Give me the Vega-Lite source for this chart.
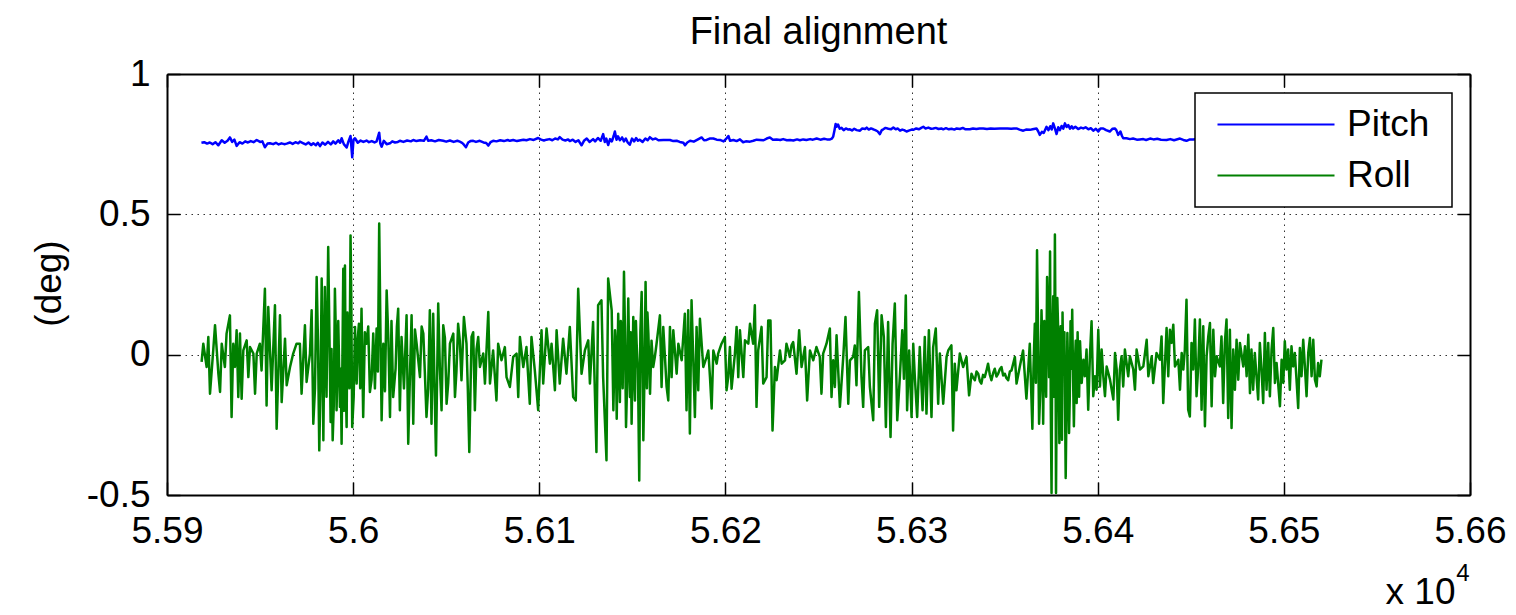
{
"$schema": "https://vega.github.io/schema/vega-lite/v6.json",
"width": 1303, "height": 421,
"autosize": {"type": "none"},
"padding": {"left": 167, "top": 74, "right": 46, "bottom": 120},
"background": "white",
"title": {"text": "Final alignment", "font": "Liberation Sans", "fontSize": 38, "fontWeight": "normal", "color": "black", "anchor": "middle", "frame": "group", "offset": 3},
"config": {"view": {"stroke": null}, "legend": {"strokeWidth": 1.5}},
"datasets": {
"pitch": [
{"t":55918.5,"v":0.755},{"t":55920,"v":0.757},{"t":55921.5,"v":0.752},{"t":55923,"v":0.756},{"t":55924.5,"v":0.750},{"t":55926,"v":0.757},{"t":55927.6,"v":0.746},{"t":55929.4,"v":0.764},{"t":55931,"v":0.755},{"t":55932.5,"v":0.762},{"t":55933.8,"v":0.774},{"t":55935,"v":0.758},{"t":55936.2,"v":0.766},{"t":55937.4,"v":0.744},{"t":55939,"v":0.757},{"t":55940.5,"v":0.752},{"t":55942,"v":0.760},{"t":55943.5,"v":0.756},{"t":55945,"v":0.761},{"t":55946.5,"v":0.757},{"t":55948.2,"v":0.765},{"t":55950,"v":0.758},{"t":55951.2,"v":0.760},{"t":55952.6,"v":0.739},{"t":55954,"v":0.752},{"t":55955.3,"v":0.753},{"t":55957,"v":0.750},{"t":55958.5,"v":0.755},{"t":55960,"v":0.749},{"t":55961.5,"v":0.753},{"t":55963,"v":0.750},{"t":55964.3,"v":0.752},{"t":55966,"v":0.756},{"t":55967.5,"v":0.751},{"t":55969,"v":0.757},{"t":55970.5,"v":0.753},{"t":55971.4,"v":0.759},{"t":55973,"v":0.754},{"t":55974.5,"v":0.749},{"t":55976,"v":0.756},{"t":55977.5,"v":0.747},{"t":55978.6,"v":0.753},{"t":55980,"v":0.746},{"t":55981,"v":0.755},{"t":55982.2,"v":0.743},{"t":55983.5,"v":0.756},{"t":55985,"v":0.748},{"t":55986.5,"v":0.758},{"t":55988,"v":0.749},{"t":55989.3,"v":0.760},{"t":55990.5,"v":0.752},{"t":55992,"v":0.764},{"t":55993,"v":0.755},{"t":55993.8,"v":0.771},{"t":55995,"v":0.750},{"t":55996.5,"v":0.738},{"t":55997.5,"v":0.760},{"t":55998.6,"v":0.779},{"t":55999.5,"v":0.703},{"t":56000.2,"v":0.766},{"t":56001,"v":0.771},{"t":56002.5,"v":0.755},{"t":56004,"v":0.763},{"t":56005.5,"v":0.758},{"t":56007.2,"v":0.763},{"t":56008.5,"v":0.757},{"t":56010,"v":0.761},{"t":56011.5,"v":0.756},{"t":56012.6,"v":0.760},{"t":56014,"v":0.791},{"t":56014.6,"v":0.752},{"t":56015.3,"v":0.741},{"t":56016.5,"v":0.762},{"t":56018,"v":0.750},{"t":56019.8,"v":0.753},{"t":56021,"v":0.760},{"t":56022.5,"v":0.756},{"t":56024,"v":0.758},{"t":56025.1,"v":0.762},{"t":56027,"v":0.758},{"t":56029,"v":0.763},{"t":56031,"v":0.760},{"t":56032.3,"v":0.765},{"t":56034,"v":0.761},{"t":56036,"v":0.764},{"t":56038,"v":0.762},{"t":56039.4,"v":0.777},{"t":56040.3,"v":0.762},{"t":56042,"v":0.764},{"t":56044,"v":0.760},{"t":56046,"v":0.765},{"t":56048.4,"v":0.762},{"t":56050,"v":0.759},{"t":56052,"v":0.763},{"t":56054,"v":0.758},{"t":56056,"v":0.762},{"t":56057.3,"v":0.759},{"t":56058.5,"v":0.755},{"t":56059.5,"v":0.748},{"t":56060.6,"v":0.739},{"t":56061.8,"v":0.756},{"t":56063,"v":0.761},{"t":56064.5,"v":0.762},{"t":56066,"v":0.758},{"t":56068,"v":0.762},{"t":56070,"v":0.756},{"t":56071.5,"v":0.754},{"t":56072.6,"v":0.745},{"t":56073.8,"v":0.757},{"t":56075.2,"v":0.762},{"t":56077,"v":0.760},{"t":56079,"v":0.764},{"t":56081,"v":0.761},{"t":56083,"v":0.765},{"t":56084.2,"v":0.762},{"t":56086,"v":0.765},{"t":56088,"v":0.761},{"t":56090,"v":0.764},{"t":56091.5,"v":0.766},{"t":56093.1,"v":0.764},{"t":56095,"v":0.768},{"t":56097,"v":0.765},{"t":56099.4,"v":0.772},{"t":56101,"v":0.766},{"t":56102.5,"v":0.763},{"t":56103.9,"v":0.766},{"t":56105.5,"v":0.768},{"t":56107,"v":0.764},{"t":56108.5,"v":0.770},{"t":56110,"v":0.767},{"t":56111,"v":0.775},{"t":56112.5,"v":0.766},{"t":56114,"v":0.763},{"t":56115.5,"v":0.767},{"t":56116.4,"v":0.761},{"t":56118,"v":0.766},{"t":56119.5,"v":0.758},{"t":56121,"v":0.764},{"t":56122.7,"v":0.746},{"t":56124,"v":0.762},{"t":56125.5,"v":0.770},{"t":56127,"v":0.758},{"t":56128.9,"v":0.768},{"t":56130,"v":0.760},{"t":56131.5,"v":0.772},{"t":56133,"v":0.762},{"t":56134.3,"v":0.786},{"t":56135.2,"v":0.758},{"t":56136,"v":0.770},{"t":56137,"v":0.747},{"t":56138,"v":0.768},{"t":56139,"v":0.760},{"t":56140,"v":0.780},{"t":56140.6,"v":0.795},{"t":56141.5,"v":0.766},{"t":56142.3,"v":0.778},{"t":56143.3,"v":0.764},{"t":56144.5,"v":0.774},{"t":56145.5,"v":0.760},{"t":56146.5,"v":0.770},{"t":56147.5,"v":0.756},{"t":56148.6,"v":0.748},{"t":56149.8,"v":0.770},{"t":56151,"v":0.760},{"t":56152,"v":0.772},{"t":56153,"v":0.762},{"t":56154,"v":0.766},{"t":56155.5,"v":0.758},{"t":56157,"v":0.770},{"t":56158.2,"v":0.764},{"t":56159.4,"v":0.775},{"t":56161,"v":0.767},{"t":56162.5,"v":0.770},{"t":56164,"v":0.764},{"t":56166.7,"v":0.765},
{"t":56170.2,"v":0.765},{"t":56172,"v":0.761},{"t":56173.8,"v":0.762},{"t":56175.5,"v":0.758},{"t":56177.4,"v":0.755},{"t":56178.3,"v":0.746},{"t":56179.5,"v":0.756},{"t":56181,"v":0.762},{"t":56183,"v":0.759},{"t":56185,"v":0.766},{"t":56187.2,"v":0.774},{"t":56188.5,"v":0.764},{"t":56189.9,"v":0.765},{"t":56191.5,"v":0.770},{"t":56193.5,"v":0.770},{"t":56195.3,"v":0.766},{"t":56197.1,"v":0.765},{"t":56199,"v":0.760},{"t":56200.5,"v":0.770},{"t":56201.6,"v":0.779},{"t":56202.5,"v":0.762},{"t":56204.3,"v":0.765},{"t":56206,"v":0.761},{"t":56207.8,"v":0.767},{"t":56209.5,"v":0.757},{"t":56211,"v":0.760},{"t":56213.2,"v":0.759},{"t":56215,"v":0.762},{"t":56216.8,"v":0.766},{"t":56218.6,"v":0.765},{"t":56220.5,"v":0.764},{"t":56222.2,"v":0.770},{"t":56223.9,"v":0.774},{"t":56225.5,"v":0.766},{"t":56227.5,"v":0.767},{"t":56229.5,"v":0.765},{"t":56231,"v":0.768},{"t":56233,"v":0.764},{"t":56234.7,"v":0.765},{"t":56236.5,"v":0.763},{"t":56238.5,"v":0.767},{"t":56240,"v":0.764},{"t":56241.8,"v":0.767},{"t":56243.5,"v":0.765},{"t":56245.5,"v":0.768},{"t":56247,"v":0.766},{"t":56249,"v":0.770},{"t":56251,"v":0.766},{"t":56253,"v":0.769},{"t":56254.5,"v":0.767},{"t":56256.2,"v":0.767},{"t":56257.2,"v":0.770},{"t":56257.9,"v":0.777},{"t":56258.6,"v":0.800},{"t":56259.2,"v":0.822},{"t":56259.7,"v":0.812},{"t":56260.5,"v":0.820},{"t":56261.4,"v":0.805},{"t":56262.4,"v":0.808},{"t":56263.5,"v":0.800},{"t":56264.7,"v":0.806},{"t":56266,"v":0.802},{"t":56266.9,"v":0.803},{"t":56268,"v":0.799},{"t":56269.2,"v":0.805},{"t":56270.5,"v":0.800},{"t":56272.3,"v":0.798},{"t":56273.5,"v":0.806},{"t":56275,"v":0.804},{"t":56275.9,"v":0.809},{"t":56277,"v":0.802},{"t":56278.2,"v":0.806},{"t":56279.4,"v":0.803},{"t":56280.5,"v":0.800},{"t":56281.7,"v":0.796},{"t":56283,"v":0.786},{"t":56284,"v":0.800},{"t":56284.8,"v":0.803},{"t":56286,"v":0.808},{"t":56287.5,"v":0.805},{"t":56289,"v":0.803},{"t":56290.2,"v":0.809},{"t":56291.5,"v":0.803},{"t":56292.5,"v":0.806},{"t":56293.8,"v":0.798},{"t":56295,"v":0.802},{"t":56296,"v":0.800},{"t":56297.3,"v":0.795},{"t":56298.5,"v":0.798},{"t":56300,"v":0.802},{"t":56300.9,"v":0.801},{"t":56302.5,"v":0.806},{"t":56304,"v":0.803},{"t":56305.2,"v":0.808},{"t":56306.3,"v":0.812},{"t":56307.5,"v":0.806},{"t":56309,"v":0.809},{"t":56310.5,"v":0.805},{"t":56311.7,"v":0.806},{"t":56313,"v":0.808},{"t":56314.5,"v":0.804},{"t":56316,"v":0.806},{"t":56317,"v":0.803},{"t":56318.5,"v":0.807},{"t":56320,"v":0.803},{"t":56321.5,"v":0.805},{"t":56323,"v":0.802},{"t":56324.2,"v":0.806},{"t":56326,"v":0.804},{"t":56327.5,"v":0.808},{"t":56329,"v":0.803},{"t":56331.3,"v":0.803},{"t":56333,"v":0.806},{"t":56334.8,"v":0.804},{"t":56336.5,"v":0.806},{"t":56338.5,"v":0.806},{"t":56340.5,"v":0.804},{"t":56342.5,"v":0.806},{"t":56344.5,"v":0.805},{"t":56347.5,"v":0.806},{"t":56349.5,"v":0.806},{"t":56351.5,"v":0.806},{"t":56353.5,"v":0.805},{"t":56355,"v":0.806},{"t":56356.4,"v":0.806},{"t":56358,"v":0.802},{"t":56360,"v":0.798},{"t":56361.5,"v":0.802},{"t":56363.6,"v":0.801},{"t":56365,"v":0.803},{"t":56367.1,"v":0.806},{"t":56368,"v":0.796},{"t":56368.9,"v":0.783},{"t":56370,"v":0.794},{"t":56371,"v":0.790},{"t":56372.5,"v":0.812},{"t":56373.5,"v":0.800},{"t":56374.5,"v":0.814},{"t":56375.3,"v":0.802},{"t":56376.1,"v":0.824},{"t":56377,"v":0.806},{"t":56377.9,"v":0.786},{"t":56378.8,"v":0.810},{"t":56379.7,"v":0.800},{"t":56380.6,"v":0.815},{"t":56381.5,"v":0.805},{"t":56382.4,"v":0.824},{"t":56383.3,"v":0.811},{"t":56384.2,"v":0.818},{"t":56385.1,"v":0.805},{"t":56386,"v":0.814},{"t":56386.8,"v":0.806},{"t":56388,"v":0.812},{"t":56389.5,"v":0.804},{"t":56391,"v":0.809},{"t":56392.2,"v":0.806},{"t":56393.5,"v":0.810},{"t":56395,"v":0.803},{"t":56396.3,"v":0.807},{"t":56397.6,"v":0.798},{"t":56399,"v":0.805},{"t":56400.3,"v":0.795},{"t":56401.5,"v":0.806},{"t":56403,"v":0.806},{"t":56404.5,"v":0.800},{"t":56406.5,"v":0.795},{"t":56408,"v":0.805},{"t":56409.2,"v":0.806},{"t":56410,"v":0.800},{"t":56411,"v":0.783},{"t":56412.2,"v":0.795},{"t":56413,"v":0.780},{"t":56413.7,"v":0.771},{"t":56415.5,"v":0.771},{"t":56417.3,"v":0.768},{"t":56419,"v":0.770},{"t":56421,"v":0.766},{"t":56422.6,"v":0.767},{"t":56424.5,"v":0.768},{"t":56426,"v":0.765},{"t":56428.1,"v":0.770},{"t":56430,"v":0.767},{"t":56432,"v":0.769},{"t":56434,"v":0.766},{"t":56437,"v":0.765},{"t":56439,"v":0.768},{"t":56441,"v":0.764},{"t":56444.2,"v":0.770},{"t":56446,"v":0.765},{"t":56447.7,"v":0.762},{"t":56449.5,"v":0.767},{"t":56451.3,"v":0.767},{"t":56455,"v":0.770},{"t":56460,"v":0.766},{"t":56465,"v":0.768},{"t":56470,"v":0.765},{"t":56475,"v":0.767},{"t":56480,"v":0.769},{"t":56490,"v":0.766},{"t":56500,"v":0.768},{"t":56510,"v":0.766},{"t":56520,"v":0.767}
],
"roll": [
{"t":55918.6,"v":-0.026},{"t":55919.5,"v":0.039},{"t":55921.3,"v":-0.044},{"t":55922.2,"v":0.063},{"t":55923.1,"v":-0.139},{"t":55924.9,"v":0.021},{"t":55925.8,"v":0.105},{"t":55927.6,"v":-0.068},{"t":55928.5,"v":-0.133},{"t":55929.4,"v":0.039},{"t":55931.1,"v":-0.044},{"t":55932.0,"v":0.075},{"t":55933.8,"v":0.140},{"t":55934.7,"v":-0.222},{"t":55935.6,"v":0.039},{"t":55936.5,"v":-0.044},{"t":55937.4,"v":0.087},{"t":55938.3,"v":-0.151},{"t":55939.2,"v":0.075},{"t":55940.1,"v":-0.157},{"t":55941.0,"v":0.015},{"t":55942.8,"v":0.051},{"t":55943.7,"v":-0.080},{"t":55944.6,"v":0.027},{"t":55946.4,"v":0.004},{"t":55947.3,"v":-0.139},{"t":55948.2,"v":0.004},{"t":55949.9,"v":0.039},{"t":55950.8,"v":-0.056},{"t":55952.6,"v":0.235},{"t":55953.5,"v":-0.181},{"t":55954.4,"v":0.170},{"t":55956.2,"v":-0.127},{"t":55958.0,"v":0.176},{"t":55958.9,"v":-0.264},{"t":55960.7,"v":0.140},{"t":55961.6,"v":-0.169},{"t":55963.4,"v":0.057},{"t":55964.3,"v":-0.109},{"t":55966.1,"v":-0.044},{"t":55967.8,"v":0.004},{"t":55969.6,"v":0.039},{"t":55971.4,"v":0.039},{"t":55972.3,"v":-0.139},{"t":55974.1,"v":0.105},{"t":55975.0,"v":-0.097},{"t":55976.8,"v":0.004},{"t":55977.7,"v":0.158},{"t":55978.6,"v":-0.246},{"t":55980.4,"v":0.277},{"t":55981.8,"v":-0.341},{"t":55983.1,"v":0.271},{"t":55984.0,"v":-0.305},{"t":55984.8,"v":0.241},{"t":55986.6,"v":0.384},{"t":55987.9,"v":-0.240},{"t":55989.0,"v":-0.305},{"t":55990.2,"v":0.235},{"t":55991.1,"v":-0.198},{"t":55992.9,"v":-0.186},{"t":55993.8,"v":-0.317},{"t":55994.7,"v":0.306},{"t":55995.6,"v":0.318},{"t":55996.5,"v":-0.258},{"t":55997.4,"v":0.039},{"t":55998.6,"v":0.425},{"t":55999.5,"v":-0.258},{"t":56001.0,"v":0.099},{"t":56001.9,"v":-0.103},{"t":56003.1,"v":0.110},{"t":56004.5,"v":0.164},{"t":56005.4,"v":-0.222},{"t":56007.2,"v":0.039},{"t":56009.0,"v":-0.133},{"t":56010.8,"v":0.075},{"t":56012.6,"v":0.093},{"t":56014.0,"v":0.467},{"t":56015.3,"v":-0.234},{"t":56016.2,"v":0.039},{"t":56018.0,"v":0.229},{"t":56019.8,"v":-0.222},{"t":56021.5,"v":-0.151},{"t":56024.2,"v":0.164},{"t":56025.1,"v":-0.198},{"t":56026.0,"v":0.063},{"t":56028.7,"v":0.140},{"t":56029.6,"v":-0.317},{"t":56031.4,"v":0.140},{"t":56032.3,"v":-0.246},{"t":56034.1,"v":0.039},{"t":56035.9,"v":-0.080},{"t":56037.7,"v":0.075},{"t":56039.4,"v":-0.222},{"t":56041.2,"v":0.158},{"t":56042.1,"v":-0.246},{"t":56043.0,"v":0.146},{"t":56044.5,"v":-0.359},{"t":56045.7,"v":0.182},{"t":56047.5,"v":-0.198},{"t":56048.4,"v":0.105},{"t":56050.2,"v":-0.175},{"t":56052.0,"v":0.039},{"t":56053.8,"v":0.075},{"t":56054.7,"v":-0.151},{"t":56056.4,"v":0.110},{"t":56058.2,"v":-0.091},{"t":56059.5,"v":0.134},{"t":56060.9,"v":0.039},{"t":56062.4,"v":-0.347},{"t":56063.6,"v":0.063},{"t":56065.4,"v":-0.198},{"t":56067.2,"v":0.063},{"t":56068.1,"v":-0.044},{"t":56069.9,"v":0.004},{"t":56070.8,"v":-0.103},{"t":56072.6,"v":0.152},{"t":56073.5,"v":-0.103},{"t":56075.2,"v":0.015},{"t":56077.0,"v":-0.163},{"t":56077.9,"v":0.039},{"t":56079.7,"v":-0.020},{"t":56081.5,"v":0.027},{"t":56082.4,"v":-0.080},{"t":56084.2,"v":-0.115},{"t":56086.0,"v":-0.008},{"t":56087.8,"v":0.004},{"t":56088.7,"v":-0.151},{"t":56089.6,"v":0.063},{"t":56091.4,"v":-0.044},{"t":56093.1,"v":0.027},{"t":56094.9,"v":-0.175},{"t":56095.8,"v":0.063},{"t":56097.6,"v":-0.056},{"t":56099.4,"v":-0.198},{"t":56101.2,"v":0.087},{"t":56102.1,"v":-0.103},{"t":56103.9,"v":0.093},{"t":56105.7,"v":-0.032},{"t":56106.6,"v":0.039},{"t":56108.4,"v":-0.127},{"t":56109.3,"v":0.087},{"t":56111.0,"v":-0.103},{"t":56112.8,"v":0.057},{"t":56114.6,"v":-0.068},{"t":56116.4,"v":0.099},{"t":56118.2,"v":-0.151},{"t":56119.6,"v":-0.163},{"t":56120.9,"v":0.235},{"t":56122.7,"v":-0.068},{"t":56124.5,"v":0.015},{"t":56126.3,"v":0.051},{"t":56127.2,"v":-0.103},{"t":56128.9,"v":0.116},{"t":56130.7,"v":-0.347},{"t":56131.6,"v":0.176},{"t":56133.4,"v":0.194},{"t":56134.3,"v":-0.080},{"t":56136.1,"v":-0.376},{"t":56137.0,"v":0.271},
{"t":56138.9,"v":0.158},{"t":56139.8,"v":-0.198},{"t":56140.7,"v":0.087},{"t":56141.6,"v":-0.228},{"t":56142.4,"v":0.146},{"t":56143.3,"v":-0.169},{"t":56144.2,"v":0.087},{"t":56145.5,"v":0.295},{"t":56146.6,"v":-0.258},{"t":56147.8,"v":0.200},{"t":56148.7,"v":-0.151},{"t":56149.6,"v":-0.246},{"t":56150.5,"v":0.134},{"t":56151.4,"v":-0.163},{"t":56152.3,"v":0.039},{"t":56153.7,"v":-0.448},{"t":56155.0,"v":0.223},{"t":56155.9,"v":-0.305},{"t":56157.1,"v":0.259},{"t":56158.6,"v":0.075},{"t":56159.5,"v":-0.139},{"t":56161.2,"v":-0.044},{"t":56162.1,"v":-0.008},{"t":56163.0,"v":0.039},{"t":56164.8,"v":0.140},{"t":56165.7,"v":-0.115},{"t":56166.6,"v":0.099},{"t":56168.4,"v":-0.115},{"t":56169.3,"v":-0.163},{"t":56170.2,"v":0.099},{"t":56171.1,"v":-0.080},{"t":56172.0,"v":0.087},{"t":56173.8,"v":-0.068},{"t":56174.7,"v":0.039},{"t":56176.5,"v":-0.020},{"t":56178.2,"v":0.146},{"t":56179.1,"v":-0.198},{"t":56180.0,"v":0.158},{"t":56180.9,"v":-0.281},{"t":56181.8,"v":0.194},{"t":56183.6,"v":-0.222},{"t":56184.5,"v":0.099},{"t":56185.4,"v":-0.127},{"t":56186.3,"v":0.128},{"t":56188.1,"v":-0.044},{"t":56189.9,"v":-0.008},{"t":56190.8,"v":0.015},{"t":56191.7,"v":-0.080},{"t":56192.6,"v":-0.192},{"t":56193.5,"v":0.015},{"t":56195.3,"v":-0.032},{"t":56196.1,"v":0.004},{"t":56197.9,"v":0.039},{"t":56199.7,"v":0.063},{"t":56200.6,"v":-0.127},{"t":56201.5,"v":-0.080},{"t":56202.4,"v":0.027},{"t":56203.3,"v":-0.121},{"t":56205.1,"v":0.004},{"t":56206.0,"v":0.099},{"t":56206.9,"v":-0.080},{"t":56207.8,"v":0.087},{"t":56209.6,"v":-0.080},{"t":56210.5,"v":0.051},{"t":56212.3,"v":0.039},{"t":56213.2,"v":0.110},{"t":56214.9,"v":0.039},{"t":56215.8,"v":0.176},{"t":56216.7,"v":-0.186},{"t":56217.6,"v":0.015},{"t":56219.4,"v":0.099},{"t":56220.3,"v":-0.103},{"t":56222.1,"v":-0.080},{"t":56223.0,"v":0.122},{"t":56224.2,"v":0.122},{"t":56225.3,"v":-0.270},{"t":56226.6,"v":-0.044},{"t":56227.5,"v":-0.091},{"t":56229.3,"v":0.015},{"t":56230.2,"v":-0.032},{"t":56232.0,"v":-0.020},{"t":56232.8,"v":0.039},{"t":56234.6,"v":-0.008},{"t":56235.5,"v":0.033},{"t":56236.4,"v":0.045},{"t":56238.2,"v":-0.068},{"t":56239.6,"v":0.087},{"t":56240.9,"v":-0.044},{"t":56242.7,"v":0.027},{"t":56243.9,"v":-0.163},{"t":56245.4,"v":0.015},{"t":56247.2,"v":-0.020},{"t":56248.9,"v":0.027},{"t":56250.7,"v":-0.008},{"t":56251.6,"v":-0.139},{"t":56252.5,"v":0.004},{"t":56254.3,"v":0.039},{"t":56256.1,"v":0.093},{"t":56257.0,"v":-0.151},{"t":56257.9,"v":-0.020},{"t":56258.8,"v":-0.115},{"t":56259.7,"v":0.069},{"t":56261.5,"v":-0.186},{"t":56263.3,"v":-0.008},{"t":56264.5,"v":0.134},{"t":56266.0,"v":-0.175},{"t":56266.9,"v":-0.020},{"t":56268.6,"v":-0.008},{"t":56269.5,"v":0.033},{"t":56270.4,"v":-0.109},{"t":56271.7,"v":0.223},{"t":56273.1,"v":-0.080},{"t":56274.0,"v":-0.186},{"t":56274.9,"v":0.015},{"t":56276.7,"v":0.027},{"t":56277.6,"v":-0.115},{"t":56278.5,"v":-0.175},{"t":56279.4,"v":-0.234},{"t":56280.3,"v":0.110},{"t":56281.5,"v":0.158},{"t":56282.6,"v":-0.186},{"t":56283.9,"v":0.140},{"t":56285.1,"v":0.063},{"t":56286.2,"v":-0.258},{"t":56287.4,"v":0.116},{"t":56288.7,"v":-0.293},{"t":56289.8,"v":0.039},{"t":56291.0,"v":0.182},{"t":56292.3,"v":-0.234},{"t":56293.7,"v":-0.080},{"t":56295.0,"v":0.087},{"t":56295.9,"v":-0.086},{"t":56296.9,"v":0.211},{"t":56297.6,"v":-0.198},{"t":56298.7,"v":0.015},{"t":56300.0,"v":-0.222},{"t":56300.9,"v":0.039},{"t":56301.8,"v":-0.086},{"t":56303.0,"v":-0.222},{"t":56304.4,"v":0.027},{"t":56305.9,"v":-0.198},{"t":56307.1,"v":0.063},{"t":56308.0,"v":-0.210},{"t":56309.3,"v":0.087},{"t":56310.7,"v":-0.222},{"t":56311.6,"v":0.027},{"t":56313.0,"v":0.093},{"t":56314.3,"v":-0.175},{"t":56315.2,"v":0.004},{"t":56317.0,"v":-0.175},{"t":56318.8,"v":-0.008},{"t":56319.7,"v":0.015},{"t":56321.4,"v":0.033},{"t":56322.3,"v":-0.270},{"t":56323.2,"v":-0.032},{"t":56324.1,"v":-0.127},{"t":56325.9,"v":0.004},{"t":56327.7,"v":-0.044},{"t":56329.5,"v":-0.008},{"t":56330.9,"v":-0.145},{"t":56332.2,"v":-0.068},{"t":56333.1,"v":-0.082},{"t":56334.0,"v":-0.091},{"t":56334.9,"v":-0.060},{"t":56335.8,"v":-0.068},{"t":56336.7,"v":-0.095},{"t":56337.5,"v":-0.103},{"t":56338.4,"v":-0.072},{"t":56339.3,"v":-0.080},{"t":56340.2,"v":-0.058},{"t":56341.1,"v":-0.032},{"t":56342.0,"v":-0.070},{"t":56342.9,"v":-0.091},{"t":56343.8,"v":-0.066},{"t":56344.7,"v":-0.050},{"t":56345.6,"v":-0.078},{"t":56346.5,"v":-0.068},{"t":56347.4,"v":-0.052},{"t":56348.3,"v":-0.044},{"t":56349.2,"v":-0.074},{"t":56350.1,"v":-0.068},{"t":56351.0,"v":-0.084},{"t":56351.9,"v":-0.091},{"t":56352.8,"v":-0.060},{"t":56353.7,"v":-0.056},{"t":56355.5,"v":-0.008},{"t":56356.4,"v":-0.103},{"t":56358.1,"v":-0.044},{"t":56359.9,"v":0.015},{"t":56361.7,"v":-0.157},{"t":56363.5,"v":0.039},{"t":56364.9,"v":-0.264},{"t":56366.2,"v":0.110},{"t":56367.4,"v":0.372},{"t":56368.5,"v":-0.246},{"t":56369.8,"v":0.158},{"t":56370.7,"v":-0.246},{"t":56371.9,"v":-0.032},{"t":56372.8,"v":0.277},{"t":56373.9,"v":-0.080},
{"t":56374.4,"v":0.368},{"t":56375.2,"v":-0.493},{"t":56376.1,"v":0.208},{"t":56377.0,"v":0.428},{"t":56377.6,"v":-0.493},{"t":56378.3,"v":0.202},{"t":56379.4,"v":-0.315},{"t":56380.1,"v":0.101},{"t":56380.8,"v":-0.303},{"t":56381.5,"v":-0.053},{"t":56382.8,"v":-0.439},{"t":56383.7,"v":0.077},{"t":56384.6,"v":-0.279},{"t":56385.4,"v":0.119},{"t":56386.3,"v":0.160},{"t":56387.2,"v":-0.255},{"t":56387.8,"v":-0.018},{"t":56388.7,"v":-0.172},{"t":56389.6,"v":-0.077},{"t":56390.5,"v":0.048},{"t":56391.4,"v":-0.101},{"t":56392.3,"v":-0.018},{"t":56393.1,"v":-0.077},{"t":56394.0,"v":0.018},{"t":56394.9,"v":-0.196},{"t":56395.8,"v":-0.006},{"t":56396.7,"v":0.119},{"t":56397.6,"v":-0.148},{"t":56398.5,"v":-0.077},{"t":56399.4,"v":-0.125},{"t":56400.3,"v":0.089},{"t":56401.2,"v":-0.113},{"t":56402.1,"v":0.018},{"t":56403.0,"v":-0.077},{"t":56403.9,"v":-0.148},{"t":56404.8,"v":-0.042},{"t":56406.6,"v":-0.089},{"t":56408.4,"v":-0.160},{"t":56409.3,"v":0.006},{"t":56410.2,"v":-0.053},{"t":56411.0,"v":-0.232},{"t":56411.9,"v":-0.053},{"t":56412.8,"v":-0.006},{"t":56413.7,"v":-0.113},{"t":56414.6,"v":0.018},{"t":56416.4,"v":-0.077},{"t":56417.3,"v":-0.006},{"t":56419.1,"v":-0.053},{"t":56420.0,"v":-0.125},{"t":56420.9,"v":0.018},{"t":56422.7,"v":-0.053},{"t":56424.5,"v":-0.042},{"t":56426.3,"v":0.053},{"t":56427.2,"v":-0.077},{"t":56429.0,"v":-0.006},{"t":56429.8,"v":-0.101},{"t":56431.6,"v":0.006},{"t":56433.4,"v":-0.018},{"t":56434.3,"v":0.065},{"t":56435.2,"v":-0.172},{"t":56437.0,"v":0.095},{"t":56437.9,"v":-0.077},{"t":56438.8,"v":0.089},{"t":56439.7,"v":0.042},{"t":56440.6,"v":0.107},{"t":56441.5,"v":-0.042},{"t":56443.3,"v":-0.018},{"t":56444.2,"v":-0.125},{"t":56445.1,"v":0.006},{"t":56446.0,"v":-0.053},{"t":56446.8,"v":0.018},{"t":56447.7,"v":0.196},{"t":56448.6,"v":-0.196},{"t":56449.5,"v":-0.220},{"t":56450.4,"v":0.042},{"t":56451.3,"v":-0.053},{"t":56452.2,"v":0.125},{"t":56453.1,"v":-0.148},{"t":56454.0,"v":-0.042},{"t":56454.9,"v":0.125},{"t":56455.8,"v":-0.196},{"t":56456.7,"v":0.101},{"t":56457.6,"v":-0.255},{"t":56458.5,"v":-0.006},{"t":56459.4,"v":0.065},{"t":56460.3,"v":0.113},{"t":56461.2,"v":-0.184},{"t":56462.1,"v":0.089},{"t":56463.0,"v":-0.077},{"t":56463.9,"v":-0.006},{"t":56465.6,"v":-0.042},{"t":56466.5,"v":0.065},{"t":56467.4,"v":-0.172},{"t":56468.3,"v":0.042},{"t":56469.2,"v":0.125},{"t":56470.1,"v":-0.226},{"t":56471.0,"v":0.089},{"t":56471.9,"v":-0.261},{"t":56472.8,"v":0.018},{"t":56473.7,"v":-0.125},{"t":56474.6,"v":0.053},{"t":56475.5,"v":-0.089},{"t":56476.4,"v":0.042},{"t":56478.2,"v":-0.042},{"t":56479.1,"v":0.030},{"t":56480.0,"v":-0.077},{"t":56480.9,"v":0.071},{"t":56481.8,"v":-0.137},{"t":56482.6,"v":0.018},{"t":56483.5,"v":-0.125},{"t":56484.4,"v":0.006},{"t":56486.2,"v":-0.160},{"t":56487.1,"v":0.042},{"t":56488.0,"v":-0.053},{"t":56488.9,"v":-0.172},{"t":56489.8,"v":0.077},{"t":56490.7,"v":-0.125},{"t":56491.6,"v":0.042},{"t":56492.5,"v":-0.148},{"t":56493.4,"v":0.018},{"t":56494.3,"v":0.095},{"t":56495.2,"v":-0.101},{"t":56496.1,"v":-0.030},{"t":56497.9,"v":-0.184},{"t":56498.8,"v":-0.018},{"t":56499.7,"v":-0.101},{"t":56500.5,"v":0.048},{"t":56501.4,"v":-0.053},{"t":56502.3,"v":0.018},{"t":56503.2,"v":-0.125},{"t":56504.1,"v":0.030},{"t":56505.0,"v":-0.042},{"t":56505.9,"v":0.006},{"t":56506.8,"v":-0.089},{"t":56507.7,"v":-0.190},{"t":56508.6,"v":0.024},{"t":56509.5,"v":-0.077},{"t":56510.4,"v":0.053},{"t":56511.3,"v":-0.042},{"t":56512.2,"v":-0.148},{"t":56513.1,"v":0.006},{"t":56514.0,"v":0.059},{"t":56514.9,"v":-0.077},{"t":56515.8,"v":0.053},{"t":56516.7,"v":-0.089},{"t":56517.6,"v":-0.113},{"t":56518.4,"v":-0.030},{"t":56519.3,"v":-0.077},{"t":56520.2,"v":-0.018},
{"t":55979.5,"v":-0.120},{"t":55981.1,"v":0.050},{"t":55982.5,"v":-0.090},{"t":55985.7,"v":-0.150},{"t":55987.2,"v":0.100},{"t":55988.4,"v":0.020},{"t":55989.6,"v":-0.180},{"t":55990.7,"v":0.080},{"t":55992.0,"v":0.120},{"t":55993.3,"v":-0.050},{"t":55995.1,"v":-0.200},{"t":55996.0,"v":-0.100},{"t":55996.9,"v":0.150},{"t":55998.0,"v":-0.120},{"t":55999.0,"v":0.200},{"t":56000.3,"v":-0.150},{"t":56001.5,"v":-0.050},{"t":56002.5,"v":0.060},{"t":56003.8,"v":-0.120},{"t":56006.3,"v":0.080},{"t":56008.1,"v":0.100},{"t":56009.9,"v":-0.090},{"t":56011.7,"v":-0.120},{"t":56013.3,"v":-0.060},{"t":56014.6,"v":0.120},{"t":56017.1,"v":-0.130},{"t":56018.9,"v":0.060},{"t":56020.6,"v":0.120},{"t":56022.8,"v":-0.050},{"t":56023.5,"v":0.100},{"t":56027.3,"v":-0.120},{"t":56030.5,"v":-0.080},{"t":56033.2,"v":0.090},{"t":56036.8,"v":0.100},{"t":56038.5,"v":-0.060},{"t":56040.3,"v":-0.120},{"t":56043.7,"v":-0.100},{"t":56046.6,"v":-0.050},{"t":56049.3,"v":0.060},{"t":56051.1,"v":-0.100},{"t":56055.5,"v":-0.060},{"t":56057.3,"v":0.050},{"t":56061.6,"v":-0.120},{"t":56064.5,"v":0.080},{"t":56066.3,"v":0.020},{"t":56141.1,"v":0.040},{"t":56143.8,"v":0.120},{"t":56144.8,"v":-0.120},{"t":56146.0,"v":0.100},{"t":56147.2,"v":-0.100},{"t":56149.1,"v":0.080},{"t":56150.9,"v":-0.050},{"t":56151.9,"v":0.120},{"t":56153.0,"v":-0.050},{"t":56154.3,"v":0.080},{"t":56156.5,"v":-0.080},{"t":56157.8,"v":-0.120},{"t":56158.1,"v":0.150},{"t":56160.3,"v":0.050},{"t":56365.5,"v":-0.050},{"t":56366.8,"v":-0.100},{"t":56368.0,"v":0.050},{"t":56369.2,"v":-0.120},{"t":56370.2,"v":0.050},{"t":56371.3,"v":0.120},{"t":56372.3,"v":-0.150},{"t":56373.4,"v":0.100},{"t":56374.1,"v":0.100},{"t":56374.8,"v":-0.200},{"t":56375.6,"v":0.050},{"t":56376.5,"v":-0.150},{"t":56377.3,"v":0.100},{"t":56378.9,"v":0.050},{"t":56379.7,"v":-0.050},{"t":56381.1,"v":0.150},{"t":56382.1,"v":0.080},{"t":56383.3,"v":-0.150},{"t":56384.1,"v":-0.050},{"t":56385.0,"v":-0.150},{"t":56385.9,"v":-0.050},{"t":56386.8,"v":-0.100},{"t":56388.2,"v":0.050},{"t":56389.2,"v":0.080},{"t":56390.0,"v":-0.150}
]
},
"layer": [
{
"data": {"name": "pitch"},
"mark": {"type": "line", "strokeWidth": 2.5, "strokeJoin": "round"},
"encoding": {
"x": {"field": "t", "type": "quantitative", "scale": {"domain": [55900, 56600], "nice": false, "zero": false},
 "axis": {"orient": "bottom", "values": [55900,56000,56100,56200,56300,56400,56500,56600], "labelExpr": "format(datum.value/10000, '.2~f')", "labelFont": "Liberation Sans", "labelFontSize": 37, "labelColor": "black", "labelPadding": 31, "labelFlush": false, "labelOverlap": false, "tickSize": -13, "tickColor": "black", "tickWidth": 1.5, "domainColor": "black", "domainWidth": 2, "grid": true, "gridColor": "#333333", "gridDash": [1.5, 4.5], "gridWidth": 1,
 "title": "x 10", "titleFont": "Liberation Sans", "titleFontSize": 37, "titleFontWeight": "normal", "titleColor": "black", "titleAlign": "right", "titleAnchor": "end", "titleX": 1288, "titleY": 108, "titleBaseline": "alphabetic"}},
"y": {"field": "v", "type": "quantitative", "scale": {"domain": [-0.5, 1], "nice": false, "zero": false},
 "axis": {"orient": "left", "values": [-0.5, 0, 0.5, 1], "labelExpr": "toString(datum.value)", "labelFont": "Liberation Sans", "labelFontSize": 37, "labelColor": "black", "labelPadding": 30, "labelOverlap": false, "tickSize": -13, "tickColor": "black", "tickWidth": 1.5, "domainColor": "black", "domainWidth": 2, "grid": true, "gridColor": "#333333", "gridDash": [1.5, 4.5], "gridWidth": 1,
 "title": "(deg)", "titleFont": "Liberation Sans", "titleFontSize": 37, "titleFontWeight": "normal", "titleColor": "black", "titleAngle": 270, "titleAlign": "center", "titleBaseline": "middle", "titleX": -118, "titleY": 209}},
"color": {"datum": "Pitch", "type": "nominal", "scale": {"domain": ["Pitch", "Roll"], "range": ["#0000ff", "#008000"]},
 "legend": {"orient": "none", "legendX": 1028, "legendY": 19, "direction": "vertical", "title": null, "padding": 13, "rowPadding": 13, "fillColor": "white", "strokeColor": "black", "symbolType": "M-0.6,0H7.2M13.9,0", "symbolSize": 900, "symbolStrokeWidth": 2, "labelFont": "Liberation Sans", "labelFontSize": 37, "labelColor": "black", "labelOffset": 102, "zindex": 1}}
}
},
{
"data": {"name": "roll"},
"mark": {"type": "line", "strokeWidth": 2.5, "strokeJoin": "round"},
"encoding": {
"x": {"field": "t", "type": "quantitative",
 "axis": {"orient": "top", "values": [55900,56000,56100,56200,56300,56400,56500,56600], "labels": false, "tickSize": -13, "tickColor": "black", "tickWidth": 1.5, "domainColor": "black", "domainWidth": 2, "grid": false, "title": null}},
"y": {"field": "v", "type": "quantitative",
 "axis": {"orient": "right", "values": [-0.5, 0, 0.5, 1], "labels": false, "tickSize": -13, "tickColor": "black", "tickWidth": 1.5, "domainColor": "black", "domainWidth": 2, "grid": false,
 "title": "4", "titleFont": "Liberation Sans", "titleFontSize": 24, "titleFontWeight": "normal", "titleColor": "black", "titleAngle": 0, "titleAlign": "right", "titleBaseline": "alphabetic", "titleX": -1, "titleY": 506}},
"color": {"datum": "Roll", "type": "nominal"}
}
}
],
"resolve": {"axis": {"x": "independent", "y": "independent"}}
}
